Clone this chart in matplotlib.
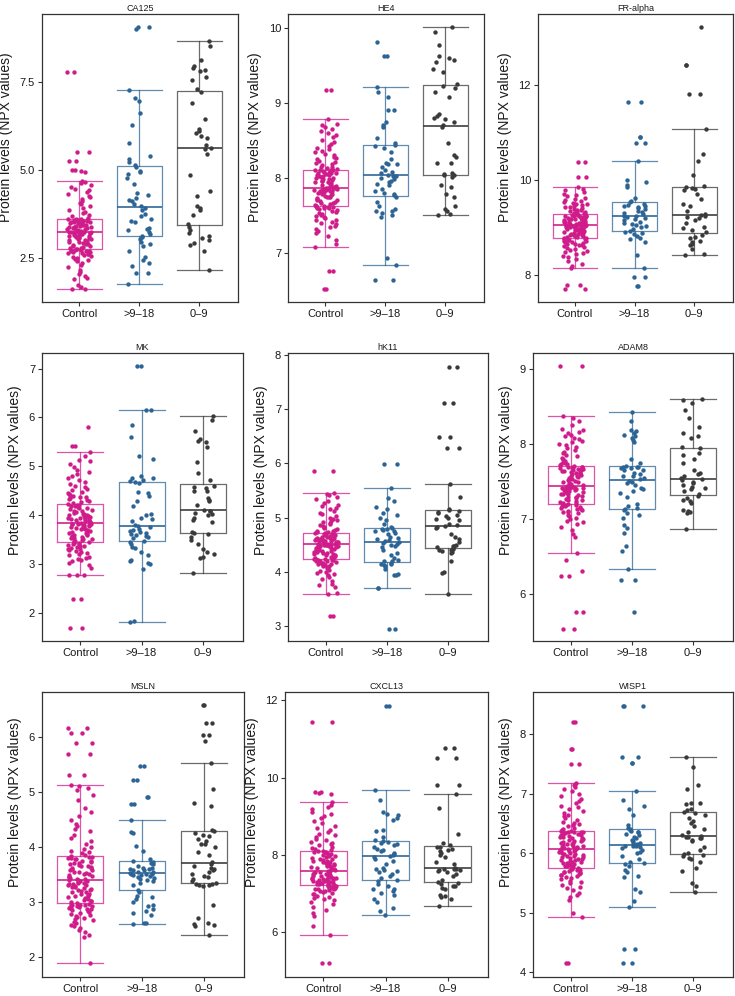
import numpy as np
import matplotlib
matplotlib.use("Agg")
import matplotlib.pyplot as plt

plt.rcParams['font.family'] = ['Liberation Sans', 'DejaVu Sans']

groups = ["Control", ">9\u201318", "0\u20139"]
colors = ["#D01C8B", "#2C6495", "#3A3A3A"]
ylabel = "Protein levels (NPX values)"

# ---- CA125 ----
ca125_ctrl = [1.60, 1.62, 1.66, 1.71, 1.88, 1.93, 1.98, 2.03, 2.08, 2.16, 2.24, 2.30, 2.36, 2.41, 2.44, 2.47, 2.50,
              2.52, 2.55, 2.57, 2.59, 2.61, 2.62, 2.64, 2.66, 2.67, 2.68, 2.69, 2.70, 2.71, 2.72, 2.73, 2.74, 2.74,
              2.76, 2.78, 2.80, 2.82, 2.84, 2.86, 2.88, 2.90, 2.92, 2.93, 2.95, 2.97, 2.99, 3.00, 3.02, 3.04, 3.05,
              3.07, 3.08, 3.10, 3.11, 3.12, 3.14, 3.15, 3.16, 3.17, 3.18, 3.19, 3.20, 3.21, 3.22, 3.22, 3.23, 3.23,
              3.24, 3.25, 3.26, 3.27, 3.29, 3.30, 3.31, 3.32, 3.34, 3.35, 3.36, 3.37, 3.38, 3.40, 3.41, 3.42, 3.43,
              3.44, 3.45, 3.47, 3.48, 3.49, 3.50, 3.51, 3.52, 3.53, 3.54, 3.55, 3.56, 3.57, 3.58, 3.58, 3.59, 3.59,
              3.61, 3.64, 3.68, 3.72, 3.76, 3.81, 3.86, 3.91, 3.96, 4.01, 4.06, 4.11, 4.16, 4.21, 4.26, 4.31, 4.36,
              4.41, 4.46, 4.51, 4.56, 4.61, 4.65, 4.69, 4.94, 4.96, 4.98, 5.00, 5.25, 5.25, 5.49, 5.49, 7.77, 7.77]
ca125_9to18 = [1.75, 2.05, 2.07, 2.25, 2.36, 2.42, 2.52, 2.70, 2.82, 2.90, 2.95, 3.02, 3.08,
               3.12, 3.18, 3.22, 3.28, 3.30, 3.35, 3.50, 3.55, 3.60, 3.68, 3.75, 3.85, 3.92,
               3.96, 4.02, 4.10, 4.15, 4.20, 4.28, 4.35, 4.58, 4.75, 4.88, 4.93, 4.96, 5.08,
               5.12, 5.22, 5.30, 5.38, 5.75, 6.28, 6.62, 6.95, 7.02, 7.25, 8.98, 9.06, 9.06]
ca125_0to9 = [2.15, 2.70, 2.85, 2.92, 3.00, 3.05, 3.12, 3.20, 3.28, 3.38,
              3.45, 3.70, 3.85, 3.92, 3.98, 4.25, 4.40, 4.85, 5.45, 5.58,
              5.62, 5.70, 5.90, 5.95, 6.05, 6.10, 6.15, 6.45, 6.90, 7.20,
              7.28, 7.55, 7.62, 7.80, 7.82, 7.90, 7.95, 8.10, 8.50, 8.64]

# ---- HE4 ----
he4_ctrl = [6.51, 6.51, 6.75, 6.75, 7.08, 7.11, 7.17, 7.22, 7.26, 7.29, 7.32, 7.34, 7.36, 7.38, 7.40, 7.41, 7.43,
            7.44, 7.46, 7.47, 7.49, 7.50, 7.52, 7.53, 7.54, 7.56, 7.57, 7.58, 7.59, 7.60, 7.60, 7.61, 7.61, 7.62,
            7.63, 7.63, 7.64, 7.65, 7.66, 7.67, 7.68, 7.69, 7.70, 7.71, 7.72, 7.73, 7.74, 7.74, 7.75, 7.76, 7.77,
            7.78, 7.79, 7.80, 7.80, 7.81, 7.82, 7.82, 7.83, 7.83, 7.84, 7.84, 7.85, 7.85, 7.85, 7.86, 7.86, 7.86,
            7.87, 7.87, 7.88, 7.89, 7.90, 7.91, 7.92, 7.93, 7.94, 7.95, 7.96, 7.96, 7.97, 7.98, 7.99, 8.00, 8.00,
            8.01, 8.02, 8.03, 8.04, 8.04, 8.05, 8.06, 8.06, 8.07, 8.07, 8.08, 8.08, 8.09, 8.09, 8.10, 8.10, 8.10,
            8.11, 8.12, 8.13, 8.14, 8.15, 8.17, 8.18, 8.20, 8.21, 8.23, 8.25, 8.27, 8.28, 8.30, 8.32, 8.34, 8.36,
            8.38, 8.40, 8.42, 8.45, 8.48, 8.51, 8.54, 8.57, 8.60, 8.62, 8.65, 8.68, 8.70, 8.72, 8.78, 9.17, 9.17]
he4_9to18 = [6.64, 6.64, 6.83, 6.93, 7.48, 7.50, 7.53, 7.55, 7.56, 7.58, 7.62, 7.68, 7.74,
             7.77, 7.78, 7.80, 7.82, 7.85, 7.90, 7.92, 7.95, 7.96, 7.98, 8.00, 8.02, 8.03,
             8.04, 8.06, 8.08, 8.10, 8.15, 8.18, 8.18, 8.20, 8.25, 8.35, 8.40, 8.42, 8.44,
             8.46, 8.53, 8.68, 8.70, 8.75, 8.90, 8.90, 9.08, 9.15, 9.21, 9.63, 9.63, 9.82]
he4_0to9 = [7.50, 7.51, 7.55, 7.58, 7.63, 7.75, 7.78, 7.88, 7.90, 8.01,
            8.04, 8.04, 8.05, 8.06, 8.20, 8.20, 8.28, 8.30, 8.47, 8.68,
            8.70, 8.75, 8.78, 8.80, 8.82, 8.85, 9.08, 9.15, 9.20, 9.23,
            9.26, 9.42, 9.45, 9.55, 9.58, 9.60, 9.63, 9.77, 9.95, 10.01]

# ---- FR-alpha ----
fra_ctrl = [7.71, 7.71, 7.78, 7.78, 8.15, 8.19, 8.24, 8.29, 8.33, 8.37, 8.40, 8.43, 8.46, 8.48, 8.50, 8.52, 8.54,
            8.56, 8.58, 8.60, 8.62, 8.63, 8.65, 8.66, 8.68, 8.69, 8.70, 8.71, 8.72, 8.73, 8.74, 8.75, 8.76, 8.77,
            8.78, 8.79, 8.80, 8.81, 8.82, 8.83, 8.84, 8.85, 8.86, 8.87, 8.88, 8.89, 8.90, 8.91, 8.92, 8.93, 8.94,
            8.95, 8.96, 8.97, 8.97, 8.98, 8.99, 9.00, 9.00, 9.01, 9.01, 9.02, 9.02, 9.03, 9.03, 9.04, 9.04, 9.05,
            9.05, 9.06, 9.06, 9.07, 9.07, 9.08, 9.09, 9.10, 9.10, 9.11, 9.12, 9.12, 9.13, 9.14, 9.15, 9.15, 9.16,
            9.17, 9.17, 9.18, 9.19, 9.20, 9.20, 9.21, 9.22, 9.22, 9.23, 9.24, 9.24, 9.25, 9.25, 9.26, 9.26, 9.27,
            9.28, 9.29, 9.30, 9.31, 9.32, 9.33, 9.35, 9.36, 9.37, 9.39, 9.40, 9.42, 9.43, 9.45, 9.47, 9.49, 9.50,
            9.52, 9.54, 9.56, 9.58, 9.60, 9.62, 9.65, 9.68, 9.71, 9.74, 9.78, 9.81, 9.85, 10.07, 10.07, 10.37, 10.37]
fra_9to18 = [7.76, 7.76, 7.95, 7.95, 8.15, 8.42, 8.70, 8.75, 8.78, 8.82, 8.86, 8.88, 8.91,
             8.93, 8.96, 9.00, 9.02, 9.05, 9.08, 9.10, 9.12, 9.15, 9.18, 9.20, 9.22, 9.23,
             9.25, 9.28, 9.30, 9.32, 9.35, 9.38, 9.40, 9.42, 9.44, 9.46, 9.48, 9.50, 9.53,
             9.56, 9.62, 9.85, 9.90, 9.95, 10.00, 10.40, 10.78, 10.78, 10.91, 10.91, 11.63, 11.63]
fra_0to9 = [8.41, 8.45, 8.55, 8.62, 8.65, 8.70, 8.72, 8.78, 8.80, 8.85,
            8.90, 8.95, 8.98, 9.00, 9.10, 9.15, 9.20, 9.22, 9.25, 9.26,
            9.28, 9.35, 9.45, 9.50, 9.60, 9.70, 9.78, 9.80, 9.83, 9.85,
            9.88, 10.10, 10.40, 10.55, 11.07, 11.80, 11.80, 12.42, 12.42, 13.21]

# ---- MK ----
mk_ctrl = [1.69, 1.69, 2.28, 2.28, 2.77, 2.77, 2.78, 2.92, 2.98, 3.02, 3.05, 3.08, 3.10, 3.13, 3.15, 3.18, 3.20,
           3.22, 3.24, 3.26, 3.28, 3.30, 3.31, 3.33, 3.35, 3.36, 3.37, 3.38, 3.40, 3.41, 3.42, 3.43, 3.44, 3.45,
           3.46, 3.47, 3.48, 3.50, 3.51, 3.52, 3.54, 3.55, 3.56, 3.58, 3.59, 3.60, 3.62, 3.63, 3.64, 3.66, 3.67,
           3.68, 3.70, 3.71, 3.72, 3.73, 3.74, 3.75, 3.76, 3.77, 3.78, 3.79, 3.80, 3.81, 3.81, 3.82, 3.82, 3.83,
           3.84, 3.85, 3.86, 3.87, 3.88, 3.89, 3.90, 3.91, 3.92, 3.93, 3.94, 3.95, 3.96, 3.97, 3.98, 3.99, 4.00,
           4.01, 4.02, 4.03, 4.05, 4.06, 4.08, 4.09, 4.11, 4.12, 4.14, 4.15, 4.17, 4.18, 4.19, 4.20, 4.21, 4.22,
           4.24, 4.26, 4.28, 4.30, 4.32, 4.34, 4.36, 4.38, 4.40, 4.42, 4.44, 4.46, 4.48, 4.51, 4.54, 4.57, 4.60,
           4.64, 4.68, 4.72, 4.76, 4.80, 4.84, 4.88, 4.93, 4.98, 5.05, 5.10, 5.12, 5.20, 5.30, 5.42, 5.42, 5.81]
mk_9to18 = [1.80, 1.82, 2.90, 3.00, 3.02, 3.05, 3.08, 3.18, 3.25, 3.32, 3.35, 3.40, 3.44,
            3.47, 3.52, 3.56, 3.58, 3.60, 3.62, 3.63, 3.65, 3.68, 3.70, 3.72, 3.75, 3.77,
            3.80, 3.88, 3.92, 3.95, 4.00, 4.02, 4.18, 4.28, 4.40, 4.45, 4.48, 4.66, 4.68,
            4.70, 4.72, 4.75, 4.75, 4.80, 5.15, 5.20, 5.60, 5.85, 6.15, 6.16, 7.05, 7.05]
mk_0to9 = [2.81, 3.12, 3.15, 3.20, 3.25, 3.30, 3.40, 3.48, 3.55, 3.62,
           3.64, 3.65, 3.85, 3.90, 3.95, 4.00, 4.02, 4.05, 4.08, 4.09,
           4.11, 4.20, 4.28, 4.30, 4.35, 4.50, 4.50, 4.55, 4.58, 4.60,
           4.72, 4.87, 5.08, 5.40, 5.50, 5.52, 5.55, 5.72, 5.95, 6.03]

# ---- hK11 ----
hk11_ctrl = [3.19, 3.19, 3.58, 3.60, 3.72, 3.75, 3.78, 3.82, 3.86, 3.90, 3.93, 3.96, 3.98, 4.00, 4.02, 4.04, 4.06,
             4.08, 4.10, 4.11, 4.12, 4.13, 4.14, 4.15, 4.16, 4.17, 4.18, 4.19, 4.20, 4.20, 4.21, 4.21, 4.22, 4.22,
             4.23, 4.24, 4.25, 4.26, 4.27, 4.28, 4.29, 4.30, 4.31, 4.32, 4.33, 4.34, 4.35, 4.36, 4.37, 4.38, 4.39,
             4.40, 4.41, 4.42, 4.43, 4.44, 4.44, 4.45, 4.46, 4.46, 4.47, 4.47, 4.48, 4.48, 4.49, 4.49, 4.50, 4.50,
             4.51, 4.51, 4.52, 4.52, 4.53, 4.54, 4.54, 4.55, 4.56, 4.56, 4.57, 4.58, 4.58, 4.59, 4.60, 4.60, 4.61,
             4.62, 4.62, 4.63, 4.64, 4.65, 4.65, 4.66, 4.67, 4.67, 4.68, 4.69, 4.69, 4.70, 4.70, 4.71, 4.71, 4.72,
             4.73, 4.74, 4.75, 4.76, 4.77, 4.78, 4.80, 4.82, 4.84, 4.86, 4.88, 4.90, 4.92, 4.94, 4.96, 4.98, 5.00,
             5.03, 5.06, 5.09, 5.12, 5.15, 5.18, 5.21, 5.24, 5.27, 5.30, 5.34, 5.38, 5.42, 5.44, 5.45, 5.86, 5.86]
hk11_9to18 = [2.95, 2.95, 3.70, 3.70, 3.93, 3.93, 3.95, 4.05, 4.10, 4.12, 4.14, 4.15, 4.17,
              4.19, 4.20, 4.22, 4.25, 4.30, 4.35, 4.40, 4.45, 4.48, 4.50, 4.52, 4.53, 4.54,
              4.56, 4.58, 4.60, 4.62, 4.65, 4.70, 4.72, 4.75, 4.76, 4.77, 4.78, 4.79, 4.80,
              4.82, 4.88, 4.95, 5.00, 5.05, 5.08, 5.15, 5.20, 5.30, 5.37, 5.55, 5.99, 5.99]
hk11_0to9 = [3.58, 3.97, 4.00, 4.20, 4.35, 4.37, 4.38, 4.40, 4.41, 4.42, 4.43,
             4.45, 4.47, 4.48, 4.50, 4.55, 4.60, 4.65, 4.70, 4.80, 4.82, 4.84,
             4.86, 4.88, 4.95, 4.98, 5.00, 5.02, 5.05, 5.08, 5.10, 5.12, 5.14,
             5.16, 5.38, 5.62, 6.29, 6.29, 6.49, 6.49, 7.11, 7.11, 7.79, 7.79]

# ---- ADAM8 ----
adam8_ctrl = [5.54, 5.54, 5.77, 5.77, 6.24, 6.24, 6.31, 6.46, 6.55, 6.76, 6.80, 6.86, 6.90, 6.93, 6.96, 6.98, 7.00,
              7.02, 7.04, 7.06, 7.08, 7.09, 7.10, 7.11, 7.12, 7.13, 7.14, 7.15, 7.16, 7.17, 7.18, 7.19, 7.19, 7.20,
              7.21, 7.22, 7.23, 7.24, 7.25, 7.26, 7.27, 7.28, 7.29, 7.30, 7.31, 7.32, 7.33, 7.33, 7.34, 7.35, 7.36,
              7.36, 7.37, 7.38, 7.38, 7.39, 7.39, 7.40, 7.40, 7.41, 7.41, 7.42, 7.42, 7.42, 7.43, 7.43, 7.43, 7.43,
              7.44, 7.45, 7.46, 7.47, 7.48, 7.49, 7.50, 7.51, 7.52, 7.53, 7.54, 7.55, 7.56, 7.57, 7.58, 7.59, 7.60,
              7.61, 7.62, 7.62, 7.63, 7.64, 7.64, 7.65, 7.66, 7.66, 7.67, 7.67, 7.68, 7.68, 7.69, 7.69, 7.70, 7.70,
              7.71, 7.72, 7.73, 7.74, 7.75, 7.76, 7.78, 7.80, 7.82, 7.84, 7.86, 7.88, 7.90, 7.92, 7.94, 7.96, 7.98,
              8.00, 8.02, 8.04, 8.06, 8.08, 8.10, 8.12, 8.14, 8.16, 8.18, 8.20, 8.25, 8.30, 8.34, 8.37, 9.04, 9.04]
adam8_9to18 = [5.77, 6.19, 6.19, 6.34, 6.58, 6.65, 6.82, 6.88, 6.92, 7.02, 7.05, 7.08, 7.12,
               7.14, 7.15, 7.18, 7.20, 7.30, 7.35, 7.38, 7.40, 7.42, 7.45, 7.48, 7.50, 7.51,
               7.53, 7.55, 7.58, 7.58, 7.60, 7.62, 7.65, 7.66, 7.68, 7.68, 7.69, 7.69, 7.70,
               7.71, 7.75, 7.80, 8.02, 8.05, 8.08, 8.10, 8.12, 8.15, 8.17, 8.18, 8.30, 8.43]
adam8_0to9 = [6.87, 7.08, 7.10, 7.11, 7.12, 7.22, 7.24, 7.25, 7.28, 7.31,
              7.33, 7.38, 7.40, 7.42, 7.43, 7.45, 7.48, 7.50, 7.52, 7.53,
              7.55, 7.58, 7.60, 7.62, 7.65, 7.75, 7.80, 7.85, 7.88, 7.94,
              7.96, 8.08, 8.10, 8.15, 8.22, 8.35, 8.45, 8.55, 8.58, 8.60]

# ---- MSLN ----
msln_ctrl = [1.89, 2.35, 2.40, 2.45, 2.48, 2.52, 2.55, 2.58, 2.61, 2.64, 2.66, 2.68, 2.70, 2.72, 2.74, 2.76, 2.78,
             2.80, 2.82, 2.84, 2.85, 2.86, 2.87, 2.88, 2.89, 2.90, 2.91, 2.92, 2.93, 2.94, 2.95, 2.95, 2.96, 2.96,
             2.98, 2.99, 3.01, 3.02, 3.04, 3.05, 3.07, 3.08, 3.10, 3.11, 3.13, 3.14, 3.15, 3.17, 3.18, 3.19, 3.21,
             3.22, 3.23, 3.25, 3.26, 3.27, 3.29, 3.30, 3.31, 3.32, 3.33, 3.34, 3.35, 3.36, 3.37, 3.38, 3.39, 3.40,
             3.41, 3.42, 3.43, 3.45, 3.46, 3.47, 3.49, 3.50, 3.51, 3.53, 3.54, 3.55, 3.57, 3.58, 3.59, 3.61, 3.62,
             3.63, 3.65, 3.66, 3.67, 3.69, 3.70, 3.71, 3.73, 3.74, 3.75, 3.77, 3.78, 3.79, 3.80, 3.81, 3.82, 3.83,
             3.86, 3.88, 3.90, 3.93, 3.96, 4.00, 4.05, 4.10, 4.16, 4.22, 4.28, 4.32, 4.38, 4.42, 4.48, 4.56, 4.64,
             4.70, 4.85, 4.95, 5.03, 5.08, 5.10, 5.12, 5.30, 5.30, 5.70, 5.70, 5.89, 5.89, 6.07, 6.07, 6.17, 6.17]
msln_9to18 = [2.60, 2.61, 2.62, 2.75, 2.80, 2.83, 2.86, 2.93, 2.95, 3.00, 3.05, 3.08, 3.10, 3.18,
              3.22, 3.30, 3.35, 3.38, 3.40, 3.42, 3.44, 3.45, 3.47, 3.48, 3.49, 3.50, 3.50, 3.51,
              3.52, 3.54, 3.55, 3.57, 3.58, 3.59, 3.60, 3.61, 3.62, 3.65, 3.68, 3.70, 3.72, 3.74,
              3.78, 3.92, 4.02, 4.25, 4.27, 4.48, 4.78, 4.78, 4.91, 4.91, 5.22, 5.22, 5.48, 5.48]
msln_0to9 = [2.39, 2.55, 2.58, 2.60, 2.62, 2.70, 2.95, 3.28, 3.30, 3.31, 3.32, 3.33,
             3.35, 3.38, 3.42, 3.45, 3.47, 3.50, 3.55, 3.58, 3.60, 3.62, 3.65, 3.69,
             3.72, 3.85, 3.90, 4.00, 4.05, 4.05, 4.10, 4.15, 4.20, 4.22, 4.25, 4.28,
             4.30, 4.75, 4.80, 5.05, 5.53, 5.93, 6.04, 6.04, 6.25, 6.25, 6.58, 6.58]

# ---- CXCL13 ----
cxcl13_ctrl = [5.20, 5.20, 5.91, 6.15, 6.40, 6.50, 6.58, 6.65, 6.72, 6.78, 6.82, 6.85, 6.88, 6.91, 6.94, 6.97, 6.99,
               7.01, 7.03, 7.05, 7.07, 7.08, 7.10, 7.11, 7.12, 7.13, 7.14, 7.15, 7.16, 7.17, 7.18, 7.19, 7.19, 7.20,
               7.21, 7.22, 7.23, 7.24, 7.25, 7.26, 7.27, 7.28, 7.29, 7.30, 7.31, 7.32, 7.33, 7.34, 7.35, 7.36, 7.37,
               7.38, 7.39, 7.40, 7.41, 7.42, 7.43, 7.44, 7.45, 7.46, 7.48, 7.49, 7.50, 7.52, 7.53, 7.54, 7.55, 7.56,
               7.58, 7.59, 7.61, 7.62, 7.64, 7.65, 7.67, 7.68, 7.70, 7.71, 7.73, 7.74, 7.76, 7.77, 7.79, 7.80, 7.82,
               7.84, 7.85, 7.87, 7.89, 7.90, 7.92, 7.94, 7.96, 7.98, 8.00, 8.02, 8.03, 8.05, 8.06, 8.07, 8.08, 8.09,
               8.11, 8.13, 8.15, 8.18, 8.21, 8.24, 8.27, 8.30, 8.33, 8.37, 8.41, 8.45, 8.50, 8.55, 8.60, 8.65, 8.70,
               8.75, 8.82, 8.88, 8.94, 9.00, 9.06, 9.12, 9.18, 9.25, 9.30, 9.36, 9.58, 9.60, 9.63, 9.63, 11.44, 11.44]
cxcl13_9to18 = [6.45, 6.55, 6.62, 6.78, 6.85, 6.95, 7.00, 7.05, 7.10, 7.12, 7.18, 7.25, 7.32,
                7.35, 7.40, 7.45, 7.50, 7.55, 7.58, 7.60, 7.62, 7.65, 7.75, 7.85, 7.90, 7.95,
                7.98, 8.00, 8.02, 8.05, 8.10, 8.12, 8.15, 8.20, 8.25, 8.28, 8.30, 8.33, 8.35,
                8.38, 8.45, 8.62, 8.65, 8.90, 8.95, 9.02, 9.05, 9.12, 9.42, 9.67, 11.86, 11.86]
cxcl13_0to9 = [6.68, 6.85, 6.90, 6.92, 6.95, 7.10, 7.15, 7.18, 7.20, 7.25, 7.27,
               7.30, 7.35, 7.45, 7.50, 7.55, 7.58, 7.60, 7.61, 7.62, 7.63, 7.64,
               7.65, 7.75, 7.80, 7.95, 8.00, 8.05, 8.10, 8.12, 8.15, 8.20, 8.21,
               8.25, 8.30, 8.55, 9.20, 9.57, 9.82, 9.82, 10.50, 10.50, 10.78, 10.78]

# ---- WISP1 ----
wisp1_ctrl = [4.16, 4.16, 4.93, 5.00, 5.22, 5.26, 5.30, 5.34, 5.38, 5.41, 5.44, 5.47, 5.50, 5.52, 5.54, 5.56, 5.58,
              5.60, 5.62, 5.63, 5.64, 5.65, 5.66, 5.67, 5.68, 5.69, 5.70, 5.71, 5.72, 5.72, 5.73, 5.73, 5.74, 5.74,
              5.76, 5.77, 5.78, 5.79, 5.80, 5.81, 5.82, 5.83, 5.84, 5.85, 5.86, 5.87, 5.88, 5.89, 5.90, 5.91, 5.92,
              5.93, 5.94, 5.95, 5.96, 5.97, 5.98, 5.99, 6.00, 6.01, 6.02, 6.03, 6.04, 6.05, 6.06, 6.06, 6.07, 6.07,
              6.08, 6.09, 6.10, 6.11, 6.12, 6.13, 6.14, 6.15, 6.16, 6.17, 6.18, 6.19, 6.20, 6.21, 6.22, 6.23, 6.24,
              6.25, 6.26, 6.27, 6.28, 6.29, 6.30, 6.31, 6.32, 6.33, 6.34, 6.34, 6.35, 6.35, 6.36, 6.36, 6.37, 6.37,
              6.39, 6.41, 6.43, 6.45, 6.47, 6.49, 6.51, 6.53, 6.56, 6.59, 6.62, 6.65, 6.68, 6.71, 6.74, 6.77, 6.80,
              6.84, 6.88, 6.92, 6.96, 7.00, 7.04, 7.08, 7.11, 7.14, 7.16, 7.18, 7.50, 7.50, 7.76, 7.76, 8.20, 8.20]
wisp1_9to18 = [4.16, 4.16, 4.39, 4.39, 5.10, 5.20, 5.35, 5.40, 5.60, 5.62, 5.68, 5.72, 5.78, 5.82,
               5.84, 5.86, 5.90, 5.95, 6.00, 6.02, 6.05, 6.08, 6.10, 6.12, 6.13, 6.13, 6.14, 6.14,
               6.15, 6.17, 6.18, 6.20, 6.22, 6.25, 6.28, 6.30, 6.32, 6.35, 6.36, 6.38, 6.39, 6.40,
               6.42, 6.48, 6.65, 6.75, 6.80, 6.90, 7.05, 7.52, 7.52, 7.62, 7.62, 8.48, 8.48, 8.48]
wisp1_0to9 = [5.35, 5.45, 5.50, 5.70, 5.75, 5.85, 5.90, 5.92, 5.95, 5.97,
              5.99, 6.00, 6.05, 6.10, 6.20, 6.22, 6.25, 6.26, 6.27, 6.28,
              6.29, 6.30, 6.35, 6.40, 6.45, 6.50, 6.55, 6.60, 6.65, 6.68,
              6.70, 6.72, 6.75, 6.82, 6.85, 6.85, 7.08, 7.15, 7.45, 7.62]

panels = [
    ("CA125", [ca125_ctrl, ca125_9to18, ca125_0to9], (1.24, 9.42), [2.5, 5.0, 7.5], ["2.5", "5.0", "7.5"]),
    ("HE4", [he4_ctrl, he4_9to18, he4_0to9], (6.34, 10.19), [7, 8, 9, 10], None),
    ("FR-alpha", [fra_ctrl, fra_9to18, fra_0to9], (7.43, 13.49), [8, 10, 12], None),
    ("MK", [mk_ctrl, mk_9to18, mk_0to9], (1.42, 7.32), [2, 3, 4, 5, 6, 7], None),
    ("hK11", [hk11_ctrl, hk11_9to18, hk11_0to9], (2.72, 8.04), [3, 4, 5, 6, 7, 8], None),
    ("ADAM8", [adam8_ctrl, adam8_9to18, adam8_0to9], (5.38, 9.21), [6, 7, 8, 9], None),
    ("MSLN", [msln_ctrl, msln_9to18, msln_0to9], (1.63, 6.82), [2, 3, 4, 5, 6], None),
    ("CXCL13", [cxcl13_ctrl, cxcl13_9to18, cxcl13_0to9], (4.83, 12.22), [6, 8, 10, 12], None),
    ("WISP1", [wisp1_ctrl, wisp1_9to18, wisp1_0to9], (3.92, 8.71), [4, 5, 6, 7, 8], None),
]

# axes frames in pixels: left, top, right, bottom
frames = [
    (42, 14, 238, 302), (288, 14, 484, 302), (538, 14, 733, 302),
    (42, 353, 243, 641), (288, 353, 488, 641), (533, 353, 733, 641),
    (42, 692, 244, 977), (285, 692, 488, 977), (533, 692, 733, 977),
]
# vertical position of the y label (axes fraction) per row
label_y = [0.571, 0.571, 0.571, 0.594, 0.594, 0.594, 0.615, 0.615, 0.615]

W, H = 735, 996
fig = plt.figure(figsize=(W / 100, H / 100), dpi=100)
fig.patch.set_facecolor("white")


def jitter(n, seed, width=0.4):
    # deterministic hash-based horizontal spread (strip-chart jitter)
    idx = np.arange(n) + seed * 101
    u = np.sin(idx * 12.9898 + 78.233) * 43758.5453
    return ((u - np.floor(u)) - 0.5) * width


for k, ((title, data, ylim, yticks, ytl), (l, t, r, b)) in enumerate(zip(panels, frames)):
    ax = fig.add_axes([l / W, 1 - b / H, (r - l) / W, (b - t) / H])
    bp = ax.boxplot(data, positions=[0, 1, 2], widths=0.75, whis=1.5, showfliers=False,
                    capwidths=0.75, patch_artist=False, manage_ticks=False)
    for i, c in enumerate(colors):
        bp['boxes'][i].set(color=c, linewidth=0.9, alpha=0.75, zorder=1)
        for ln in bp['whiskers'][2 * i:2 * i + 2] + bp['caps'][2 * i:2 * i + 2]:
            ln.set(color=c, linewidth=0.9, alpha=0.75, zorder=1)
        bp['medians'][i].set(color=c, linewidth=1.3, alpha=0.9, zorder=1)
        vals = np.asarray(data[i])
        ax.scatter(i + jitter(len(vals), k * 3 + i), vals, s=10, color=c, linewidths=0, zorder=3)

    ax.set_xlim(-0.62, 2.65)
    ax.set_ylim(*ylim)
    ax.set_xticks([0, 1, 2])
    ax.set_xticklabels(groups, fontsize=8)
    ax.set_yticks(yticks)
    if ytl is not None:
        ax.set_yticklabels(ytl)
    ax.tick_params(axis='both', labelsize=8, length=3, width=0.8, color="#333333", labelcolor="#1a1a1a")
    ax.tick_params(axis='y', pad=2)
    ax.tick_params(axis='x', pad=2)
    for sp in ax.spines.values():
        sp.set_color("#333333")
        sp.set_linewidth(0.9)
    ax.set_title(title, fontsize=6.5, pad=2.5, color="#1a1a1a")
    ax.set_ylabel(ylabel, fontsize=10, labelpad=5, color="#1a1a1a", y=label_y[k])

fig.savefig("out.png", dpi=100)
